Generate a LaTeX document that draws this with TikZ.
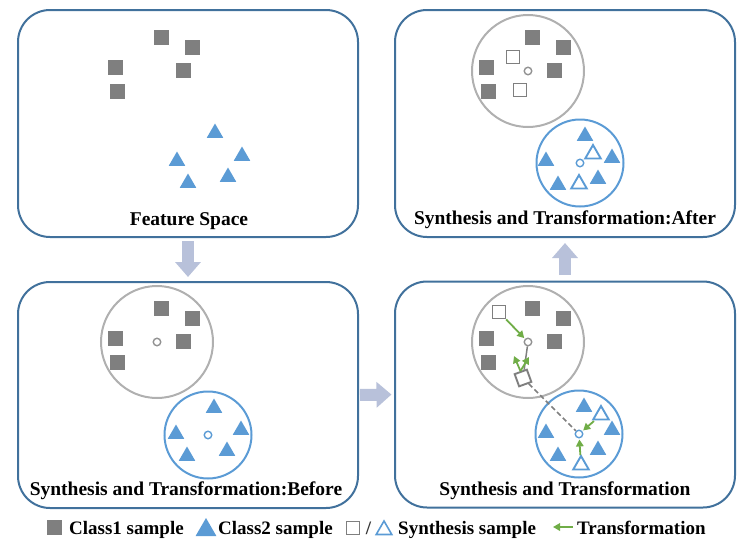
\documentclass[tikz,border=0pt]{standalone}
\usepackage{fontspec}
\setmainfont{Liberation Serif}
\usetikzlibrary{shapes.geometric,arrows.meta}
\definecolor{panelblue}{HTML}{41719C}
\definecolor{sqgray}{HTML}{7F7F7F}
\definecolor{tblue}{HTML}{5B9BD5}
\definecolor{cgray}{HTML}{B0B0B0}
\definecolor{flow}{HTML}{B8C1DA}
\definecolor{tgreen}{HTML}{70AD47}
\begin{document}
\begin{tikzpicture}[x=1pt,y=-1pt,
 panel/.style={draw=panelblue, line width=2pt, rounded corners=32pt, minimum width=340pt, inner sep=0pt},
 title/.style={font=\bfseries\fontsize{19.5}{22}\selectfont, anchor=base, inner sep=0pt},
 legtext/.style={font=\bfseries\fontsize{19}{22}\selectfont, anchor=base west, inner sep=0pt},
 sq/.style={shape=rectangle, fill=sqgray, minimum size=15pt, inner sep=0pt},
 hsq/.style={shape=rectangle, draw=sqgray, line width=1.9pt, minimum size=13pt, inner sep=0pt},
 tri/.style={regular polygon, regular polygon sides=3, fill=tblue, minimum size=19pt, inner sep=0pt},
 htri/.style={regular polygon, regular polygon sides=3, draw=tblue, line width=1.9pt, minimum size=18pt, inner sep=0pt},
 gcirc/.style={circle, draw=cgray, line width=2pt, minimum size=112pt, inner sep=0pt},
 bcirc/.style={circle, draw=tblue, line width=2pt, minimum size=87pt, inner sep=0pt},
 gctr/.style={circle, draw=sqgray!85, line width=1.4pt, minimum size=7.5pt, inner sep=0pt},
 bctr/.style={circle, draw=tblue, line width=1.4pt, minimum size=7.5pt, inner sep=0pt},
 flowarrow/.style={draw=flow, line width=12pt, -{Triangle[width=25pt,length=15pt]}},
 garrow/.style={draw=tgreen, line width=1.8pt, -{Triangle[width=7.5pt,length=7pt]}},
 dashline/.style={draw=sqgray, line width=1.7pt, dash pattern=on 5pt off 3pt},
]
\useasboundingbox (0,0) rectangle (740,541);

% panels
\node[panel, minimum height=227pt] (fs) at (188,123.5) {};
\node[panel, minimum height=226pt] (bf) at (188,395) {};
\node[panel, minimum height=226pt] (tr) at (565,394.5) {};
\node[panel, minimum height=227pt] (af) at (565,123.5) {};

\node[title] (t1) at (189,225) {Feature Space};
\node[title] (t2) at (186,495) {Synthesis and Transformation:Before};
\node[title] (t3) at (565,495) {Synthesis and Transformation};
\node[title] (t4) at (565,224) {Synthesis and Transformation:After};

% flow arrows
\draw[flowarrow, shorten <=3pt, shorten >=4pt] (fs.south) -- (bf.north);
\draw[flowarrow, shorten <=1pt, shorten >=2.5pt] (bf.east) -- (tr.west);
\draw[flowarrow, shorten <=5.5pt, shorten >=5pt] (tr.north) -- (af.south);

% panel 1: feature space
\begin{scope}[shift={(157,71)}]
\node[sq] (p1s1) at (4,-34) {};
\node[sq] (p1s2) at (35,-24) {};
\node[sq] (p1s3) at (-42,-4) {};
\node[sq] (p1s4) at (26,-1) {};
\node[sq] (p1s5) at (-40,20) {};
\end{scope}
\begin{scope}[shift={(208,162)}]
\node[tri] (p1t1) at (7,-29) {};
\node[tri] (p1t2) at (-31,-1) {};
\node[tri] (p1t3) at (34,-6) {};
\node[tri] (p1t4) at (20,15) {};
\node[tri] (p1t5) at (-20,21) {};
\end{scope}

% panel 2: before
\node[gcirc] (p2g) at (157,342) {};
\node[gctr] (p2gc) at (157,342) {};
\begin{scope}[shift={(157,342)}]
\node[sq] (p2s1) at (4,-34) {};
\node[sq] (p2s2) at (35,-24) {};
\node[sq] (p2s3) at (-42,-4) {};
\node[sq] (p2s4) at (26,-1) {};
\node[sq] (p2s5) at (-40,20) {};
\end{scope}
\node[bcirc] (p2b) at (208,435) {};
\node[bctr] (p2bc) at (208,435) {};
\begin{scope}[shift={(208,435)}]
\node[tri] (p2t1) at (6,-27) {};
\node[tri] (p2t2) at (-32,-1) {};
\node[tri] (p2t3) at (33,-5) {};
\node[tri] (p2t4) at (19,16) {};
\node[tri] (p2t5) at (-21,21) {};
\end{scope}

% panel 3: transformation
\node[gcirc] (p3g) at (528,342) {};
\node[gctr] (p3gc) at (528,342) {};
\begin{scope}[shift={(528,342)}]
\node[sq] (p3s1) at (4,-34) {};
\node[sq] (p3s2) at (35,-24) {};
\node[sq] (p3s3) at (-42,-4) {};
\node[sq] (p3s4) at (26,-1) {};
\node[sq] (p3s5) at (-40,20) {};
\node[hsq] (p3h1) at (-29,-30) {};
\node[hsq, rotate=20] (p3h2) at (-5,36) {};
\end{scope}
\node[bcirc] (p3b) at (579,434) {};
\node[bctr] (p3bc) at (579,434) {};
\begin{scope}[shift={(579,434)}]
\node[tri] (p3t1) at (5,-27) {};
\node[tri] (p3t2) at (-33,-1) {};
\node[tri] (p3t3) at (33,-4) {};
\node[tri] (p3t4) at (19,16) {};
\node[tri] (p3t5) at (-21,22) {};
\node[htri] (p3ht1) at (22,-19) {};
\node[htri] (p3ht2) at (2,31) {};
\end{scope}
\draw[draw=sqgray, line width=1.5pt] (p3gc) -- (p3h2);
\draw[dashline] (p3h2) -- (p3bc);
\draw[garrow, shorten >=1pt] (p3h1) -- (p3gc);
\coordinate (p3a1) at (514,356);
\coordinate (p3a2) at (529,357);
\draw[garrow] (p3h2.north) -- (p3a1);
\draw[garrow] (p3h2.north) -- (p3a2);
\draw[garrow, shorten <=1pt, shorten >=1pt] (p3ht1) -- (p3bc);
\draw[garrow, shorten <=0pt, shorten >=1pt] (p3ht2) -- (p3bc);

% panel 4: after
\node[gcirc] (p4g) at (528,71) {};
\node[gctr] (p4gc) at (528,71) {};
\begin{scope}[shift={(528,71)}]
\node[sq] (p4s1) at (4,-34) {};
\node[sq] (p4s2) at (35,-24) {};
\node[sq] (p4s3) at (-42,-4) {};
\node[sq] (p4s4) at (26,-1) {};
\node[sq] (p4s5) at (-40,20) {};
\node[hsq] (p4h1) at (-15,-14) {};
\node[hsq] (p4h2) at (-8,19) {};
\end{scope}
\node[bcirc] (p4b) at (580,163) {};
\node[bctr] (p4bc) at (580,163) {};
\begin{scope}[shift={(580,163)}]
\node[tri] (p4t1) at (5,-27) {};
\node[tri] (p4t2) at (-34,-2) {};
\node[tri] (p4t3) at (32,-5) {};
\node[tri] (p4t4) at (18,16) {};
\node[tri] (p4t5) at (-22,22) {};
\node[htri] (p4ht1) at (13,-9) {};
\node[htri] (p4ht2) at (-1,21) {};
\end{scope}

% legend
\node[sq] (lsq) at (54,527.5) {};
\node[legtext] (l1) at (69,534) {Class1 sample};
\node[tri, minimum size=24pt] (ltri) at (206,530) {};
\node[legtext] (l2) at (218,534) {Class2 sample};
\node[hsq, line width=1.6pt] (lhs) at (353,528) {};
\node[legtext, anchor=base, text=black!80] (lsl) at (368.5,534) {/};
\node[htri, line width=1.6pt] (lht) at (384,530) {};
\node[legtext] (l3) at (398,534) {Synthesis sample};
\coordinate (la1) at (573,527);
\coordinate (la2) at (553,527);
\draw[garrow] (la1) -- (la2);
\node[legtext] (l4) at (577,534) {Transformation};
\end{tikzpicture}
\end{document}
